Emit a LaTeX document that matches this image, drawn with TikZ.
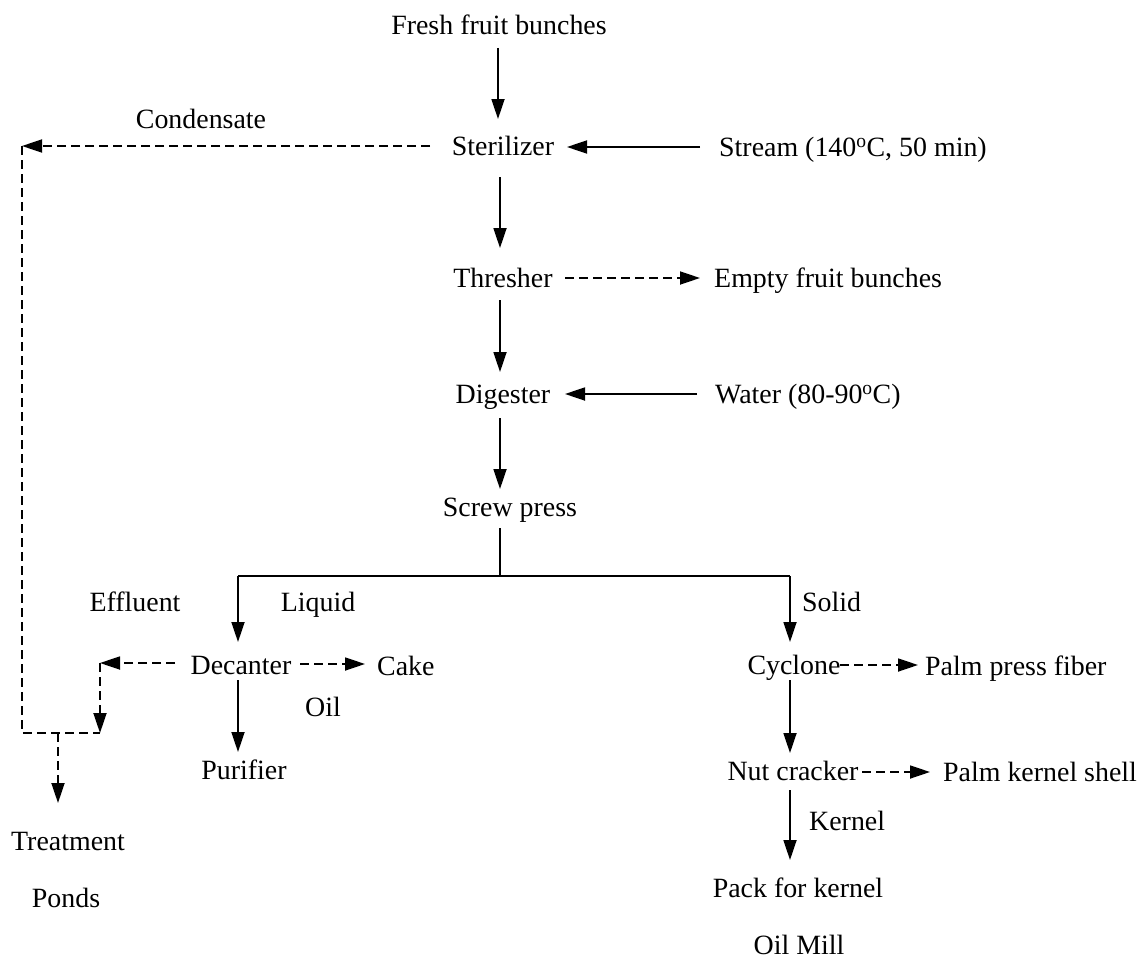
\documentclass[tikz,border=0pt]{standalone}
\usepackage{fontspec}
\setmainfont{Liberation Serif}
\usetikzlibrary{arrows.meta}
\begin{document}
\begin{tikzpicture}[x=1pt,y=-1pt,
  font=\fontsize{27.9}{33}\selectfont,
  lbl/.style={inner sep=0pt, text height=18.3pt, text depth=0pt},
  arr/.style={line width=1.8pt, -{Triangle[length=20pt,width=13pt]}},
  dsh/.style={line width=1.8pt, dash pattern=on 9pt off 5pt},
  darr/.style={dsh, -{Triangle[length=20pt,width=13pt]}},
  pln/.style={line width=1.8pt}]
\useasboundingbox (0,0) rectangle (1141,958);
% text nodes
\node[lbl] (ffb)   at (499,25)  {Fresh fruit bunches};
\node[lbl] (ster)  at (503,146) {Sterilizer};
\node[lbl] (cond)  at (201,119) {Condensate};
\node[lbl,anchor=west] (steam) at (719,147) {Stream (140\textsuperscript{o}C, 50 min)};
\node[lbl] (thr)   at (503,278) {Thresher};
\node[lbl,anchor=west] (efb) at (714,278) {Empty fruit bunches};
\node[lbl] (dig)   at (503,394) {Digester};
\node[lbl,anchor=west] (water) at (715,394) {Water (80-90\textsuperscript{o}C)};
\node[lbl] (sp)    at (510,507) {Screw press};
\node[lbl] (eff)   at (135,602) {Effluent};
\node[lbl] (liq)   at (318,602) {Liquid};
\node[lbl,anchor=west] (sol) at (802,602) {Solid};
\node[lbl] (dec)   at (241,665) {Decanter};
\node[lbl,anchor=west] (cake) at (377,666) {Cake};
\node[lbl] (oil)   at (323,707) {Oil};
\node[lbl] (pur)   at (244,770) {Purifier};
\node[lbl] (cyc)   at (794,665) {Cyclone};
\node[lbl,anchor=west] (ppf) at (925,666) {Palm press fiber};
\node[lbl] (nut)   at (793,771) {Nut cracker};
\node[lbl,anchor=west] (pks) at (943,772) {Palm kernel shell};
\node[lbl,anchor=west] (ker) at (809,821) {Kernel};
\node[lbl] (pack)  at (798,888) {Pack for kernel};
\node[lbl] (mill)  at (799,945) {Oil Mill};
\node[lbl] (treat) at (68,841)  {Treatment};
\node[lbl] (ponds) at (66,898)  {Ponds};
% junction coordinates
\coordinate (cA) at (22,146);
\coordinate (cB) at (22,733);
\coordinate (cC) at (100,733);
\coordinate (cD) at (58,733);
\coordinate (eA) at (100,663);
\coordinate (split) at (500,576);
\coordinate (lft) at (238,576);
\coordinate (rgt) at (790,576);
% main spine
\draw[arr] ([shift={(-1,23)}]ffb.center) -- ([shift={(-5,-27)}]ster.center);
\draw[arr] ([shift={(-19,0)}]steam.west) -- ([shift={(64,1)}]ster.center);
\draw[arr] ([shift={(-3,31)}]ster.center) -- ([shift={(-3,-30)}]thr.center);
\draw[darr] ([shift={(62,0)}]thr.center) -- ([shift={(-14,0)}]efb.west);
\draw[arr] ([shift={(-3,22)}]thr.center) -- ([shift={(-3,-22)}]dig.center);
\draw[arr] ([shift={(-18,0)}]water.west) -- ([shift={(62,0)}]dig.center);
\draw[arr] ([shift={(-3,24)}]dig.center) -- ([shift={(-10,-18)}]sp.center);
\draw[pln] ([shift={(-10,21)}]sp.center) -- (split);
\draw[pln] (lft) -- (rgt);
\draw[arr] (lft) -- ([shift={(-3,-23)}]dec.center);
\draw[arr] (rgt) -- ([shift={(-4,-23)}]cyc.center);
% condensate line
\draw[darr] ([shift={(-73,0)}]ster.center) -- (cA);
\draw[dsh] (cA) -- (cB) -- (cC);
% decanter branch
\draw[darr] ([shift={(59,-1)}]dec.center) -- ([shift={(-12,-2)}]cake.west);
\draw[darr] ([shift={(-66,-2)}]dec.center) -- (eA);
\draw[darr] (eA) -- (cC);
\draw[arr] ([shift={(-3,15)}]dec.center) -- ([shift={(-6,-18)}]pur.center);
\draw[darr] (cD) -- ([shift={(-10,-38)}]treat.center);
% cyclone branch
\draw[darr] ([shift={(46,0)}]cyc.center) -- ([shift={(-7,-1)}]ppf.west);
\draw[arr] ([shift={(-4,15)}]cyc.center) -- ([shift={(-3,-18)}]nut.center);
\draw[darr] ([shift={(69,1)}]nut.center) -- ([shift={(-13,0)}]pks.west);
\draw[arr] ([shift={(-3,19)}]nut.center) -- ([shift={(-8,-28)}]pack.center);
\end{tikzpicture}
\end{document}
